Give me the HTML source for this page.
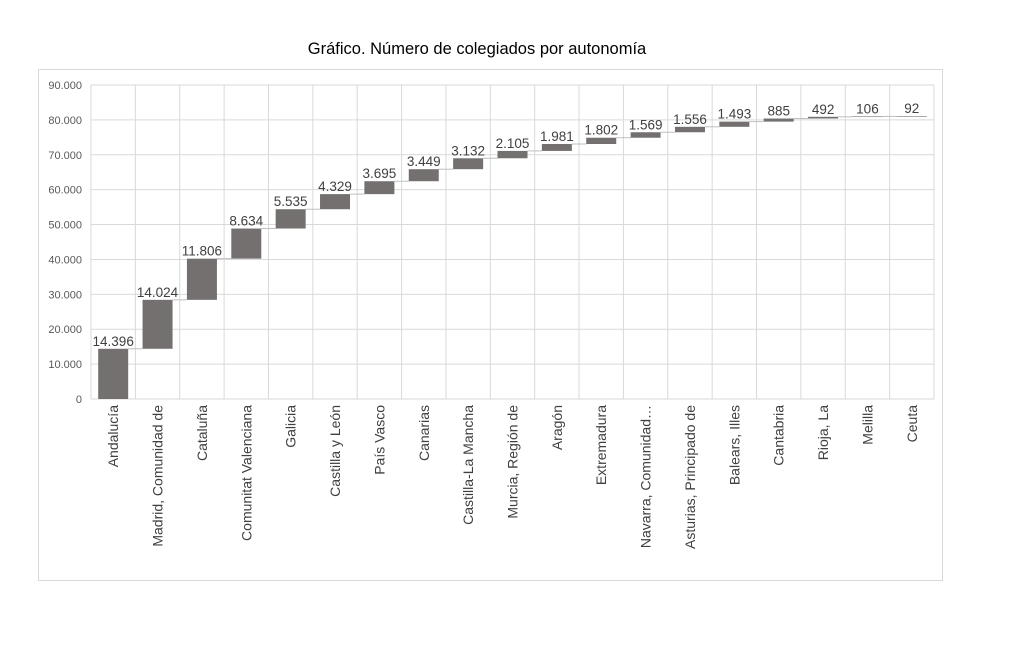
<!DOCTYPE html>
<html><head><meta charset="utf-8"><style>
html,body{margin:0;padding:0;background:#fff;}
svg{display:block;font-family:"Liberation Sans",Arial,sans-serif;}
</style></head><body>
<svg id="c" width="1024" height="651" viewBox="0 0 1024 651" xmlns="http://www.w3.org/2000/svg">
<rect x="0" y="0" width="1024" height="651" fill="#fff"/>
<rect x="38.5" y="69.5" width="904" height="511" fill="none" stroke="#d9d9d9"/>
<text x="477" y="54" text-anchor="middle" font-size="16.5" fill="#000">Gráfico. Número de colegiados por autonomía</text>
<g id="g"></g>
</svg>
<script>
var names=["Andalucía","Madrid, Comunidad de","Cataluña","Comunitat Valenciana","Galicia","Castilla y León","País Vasco","Canarias","Castilla-La Mancha","Murcia, Región de","Aragón","Extremadura","Navarra, Comunidad…","Asturias, Principado de","Balears, Illes","Cantabria","Rioja, La","Melilla","Ceuta"];
var vals=[14396,14024,11806,8634,5535,4329,3695,3449,3132,2105,1981,1802,1569,1556,1493,885,492,106,92];
var labs=["14.396","14.024","11.806","8.634","5.535","4.329","3.695","3.449","3.132","2.105","1.981","1.802","1.569","1.556","1.493","885","492","106","92"];
var L=91,R=934,T=85,B=399,n=19,w=(R-L)/n;
function y(v){return B-v*(B-T)/90000;}
var s="";
for(var i=0;i<=9;i++){var yy=y(i*10000);s+='<line x1="'+L+'" x2="'+R+'" y1="'+yy+'" y2="'+yy+'" stroke="#d9d9d9"/>';
s+='<text x="82" y="'+(yy+4)+'" text-anchor="end" font-size="11" fill="#595959">'+(i==0?"0":i*10+".000")+'</text>';}
for(var i=0;i<=n;i++){var xx=L+i*w;s+='<line x1="'+xx+'" x2="'+xx+'" y1="'+T+'" y2="'+B+'" stroke="#d9d9d9"/>';}
var c=0;
for(var i=0;i<n;i++){var cx=L+w*(i+0.5),bw=30,a=c,b=c+vals[i];c=b;
var yt=y(b),yb=y(a);
if(i<n-1){s+='<line x1="'+(cx+bw/2)+'" x2="'+(cx+w-bw/2)+'" y1="'+yt+'" y2="'+yt+'" stroke="#bfbfbf"/>';}
s+='<rect x="'+(cx-bw/2)+'" y="'+yt+'" width="'+bw+'" height="'+Math.max(yb-yt,0.6)+'" fill="#747070"/>';
s+='<text x="'+cx+'" y="'+(yt-3)+'" text-anchor="middle" font-size="13.5" fill="#404040">'+labs[i]+'</text>';
s+='<text transform="translate('+(cx+5)+',405) rotate(-90)" text-anchor="end" font-size="14" fill="#404040">'+names[i]+'</text>';}
document.getElementById("g").innerHTML=s;
</script>
</body></html>
